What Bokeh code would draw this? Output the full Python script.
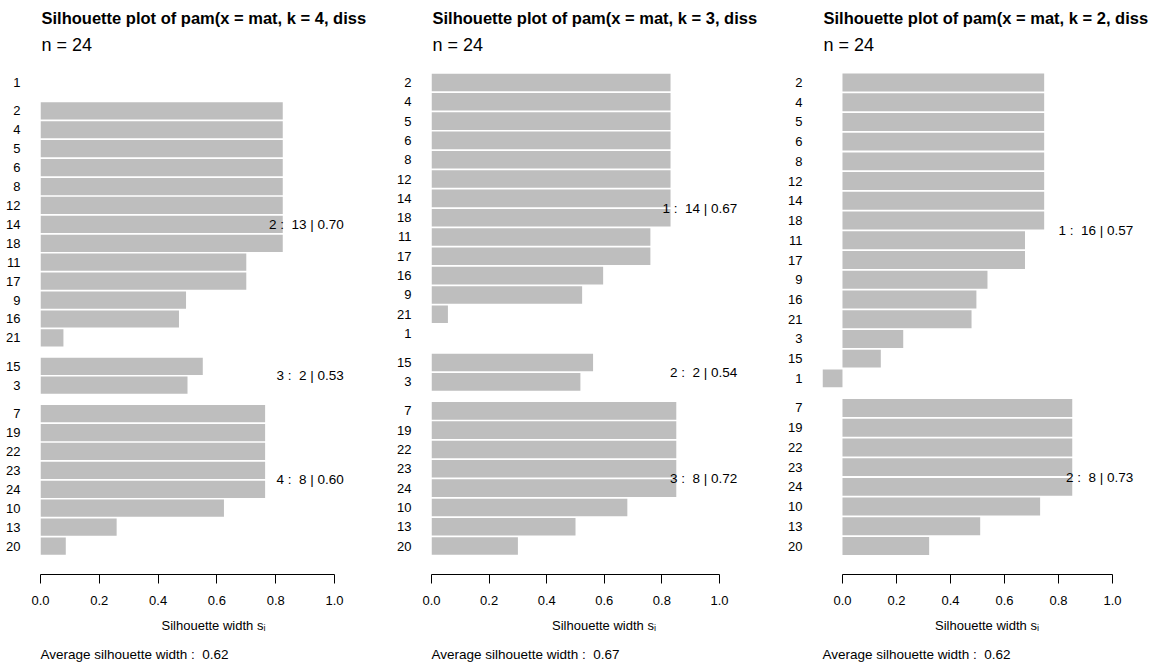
from bokeh.plotting import figure
from bokeh.layouts import row
from bokeh.models import ColumnDataSource, Range1d, FixedTicker, NumeralTickFormatter, Title
from bokeh.core.properties import value
from bokeh.embed import file_html
from bokeh.resources import INLINE

# ---- silhouette widths of pam() on 24 observations, for k = 4, 3, 2 ----
obs_k4 = ["1", "2", "4", "5", "6", "8", "12", "14", "18", "11", "17", "9", "16", "21",
          "15", "3", "7", "19", "22", "23", "24", "10", "13", "20"]
clus_k4 = [1, 2, 2, 2, 2, 2, 2, 2, 2, 2, 2, 2, 2, 2, 3, 3, 4, 4, 4, 4, 4, 4, 4, 4]
sil_k4 = [0.0,
          0.824, 0.824, 0.824, 0.824, 0.824, 0.824, 0.824, 0.824, 0.700, 0.700, 0.495, 0.471, 0.078,
          0.552, 0.500,
          0.764, 0.764, 0.764, 0.764, 0.764, 0.624, 0.259, 0.086]

obs_k3 = ["2", "4", "5", "6", "8", "12", "14", "18", "11", "17", "16", "9", "21", "1",
          "15", "3", "7", "19", "22", "23", "24", "10", "13", "20"]
clus_k3 = [1, 1, 1, 1, 1, 1, 1, 1, 1, 1, 1, 1, 1, 1, 2, 2, 3, 3, 3, 3, 3, 3, 3, 3]
sil_k3 = [0.830, 0.830, 0.830, 0.830, 0.830, 0.830, 0.830, 0.830, 0.760, 0.760, 0.596, 0.523, 0.057, 0.0,
          0.561, 0.517,
          0.850, 0.850, 0.850, 0.850, 0.850, 0.680, 0.500, 0.300]

obs_k2 = ["2", "4", "5", "6", "8", "12", "14", "18", "11", "17", "9", "16", "21", "3", "15", "1",
          "7", "19", "22", "23", "24", "10", "13", "20"]
clus_k2 = [1, 1, 1, 1, 1, 1, 1, 1, 1, 1, 1, 1, 1, 1, 1, 1, 2, 2, 2, 2, 2, 2, 2, 2]
sil_k2 = [0.747, 0.747, 0.747, 0.747, 0.747, 0.747, 0.747, 0.747, 0.676, 0.676, 0.537, 0.496, 0.478,
          0.225, 0.142, -0.074,
          0.851, 0.851, 0.851, 0.851, 0.851, 0.732, 0.510, 0.321]

x_ticks = [0.0, 0.2, 0.4, 0.6, 0.8, 1.0]

# ---- styling / geometry ----
FONT = "Liberation Sans"
BAR = "#bebebe"
INK = "#000000"
NBSP = "\u00a0"
HEIGHT = 671
FRAME_TOP, FRAME_BOTTOM = 60, 575
FIRST_ROW_PX, LAST_ROW_PX = 82.0, 546.5
RIGHT_PAD = 4


def silhouette_panel(k, obs, clus, sil, width, left, px_per_unit):
    n = len(obs)
    order = []
    for c in clus:
        if c not in order:
            order.append(c)
    cidx = [order.index(c) for c in clus]
    # rows are 2 units apart, each cluster boundary adds a 1-unit gap
    ypos = [2 * i + c for i, c in enumerate(cidx)]
    unit_px = (LAST_ROW_PX - FIRST_ROW_PX) / (2 * (n - 1) + (len(order) - 1))
    y_top = (FRAME_TOP - FIRST_ROW_PX) / unit_px
    y_bot = (FRAME_BOTTOM - FIRST_ROW_PX) / unit_px

    x0 = min(0.0, min(sil))
    x1 = x0 + (width - left - RIGHT_PAD) / px_per_unit

    p = figure(width=width, height=HEIGHT, title=None,
               x_range=Range1d(x0, x1), y_range=Range1d(y_bot, y_top),
               output_backend="svg", toolbar_location=None,
               min_border_left=left, min_border_right=RIGHT_PAD,
               min_border_top=FRAME_TOP, min_border_bottom=HEIGHT - FRAME_BOTTOM)
    p.grid.visible = False
    p.outline_line_color = None
    p.background_fill_color = "white"
    p.border_fill_color = "white"

    src = ColumnDataSource(dict(y=ypos, s=sil, obs=obs))
    p.hbar(y="y", left=0, right="s", height=1.82, source=src,
           fill_color=BAR, line_color=None)

    # per-cluster summary: "cluster :  size | average width"
    smax = max(sil)
    lx, ly, lt = [], [], []
    for c in order:
        members = [j for j in range(n) if clus[j] == c]
        if len(members) < 2:
            continue
        avg = sum(sil[j] for j in members) / len(members)
        lx.append(smax)
        ly.append(sum(ypos[j] for j in members) / len(members))
        lt.append(f"{c} : {NBSP}{len(members)} | {avg:.2f}")
    p.text(x=lx, y=ly, text=lt, text_align="right", text_baseline="middle",
           x_offset=61, text_font=value(FONT), text_font_size="13.5px", text_color=INK)

    xa = p.xaxis[0]
    xa.ticker = FixedTicker(ticks=x_ticks)
    xa.formatter = NumeralTickFormatter(format="0.0")
    xa.bounds = (0, 1)
    xa.axis_line_color = INK
    xa.major_tick_line_color = INK
    xa.major_tick_out = 9
    xa.major_tick_in = 0
    xa.minor_tick_line_color = None
    xa.major_label_standoff = 12
    xa.major_label_text_font = FONT
    xa.major_label_text_font_size = "13px"
    xa.major_label_text_color = INK
    xa.axis_label = "Silhouette width s\u1d62"
    xa.axis_label_standoff = 10
    xa.axis_label_text_font = FONT
    xa.axis_label_text_font_size = "13px"
    xa.axis_label_text_font_style = "normal"
    xa.axis_label_text_color = INK

    ya = p.yaxis[0]
    ya.ticker = FixedTicker(ticks=ypos)
    ya.major_label_overrides = {y: o for y, o in zip(ypos, obs)}
    ya.axis_line_color = None
    ya.major_tick_line_color = None
    ya.minor_tick_line_color = None
    ya.major_label_standoff = 14
    ya.major_label_text_font = FONT
    ya.major_label_text_font_size = "13px"
    ya.major_label_text_color = INK

    overall = sum(sil) / n
    p.add_layout(Title(text=f"n = {n}", align="left", offset=1, standoff=12,
                       text_font=FONT, text_font_size="18px", text_font_style="normal",
                       text_color=INK), "above")
    p.add_layout(Title(text=f"Silhouette plot of pam(x = mat, k = {k}, diss", align="left",
                       offset=1, standoff=0, text_font=FONT, text_font_size="16.5px",
                       text_font_style="bold", text_color=INK), "above")
    p.add_layout(Title(text=f"Average silhouette width : {NBSP}{overall:.2f}", align="left",
                       offset=0, standoff=19, text_font=FONT, text_font_size="13.5px",
                       text_font_style="normal", text_color=INK), "below")
    return p


p1 = silhouette_panel(4, obs_k4, clus_k4, sil_k4, width=390, left=40, px_per_unit=294)
p2 = silhouette_panel(3, obs_k3, clus_k3, sil_k3, width=390, left=41, px_per_unit=288)
p3 = silhouette_panel(2, obs_k2, clus_k2, sil_k2, width=375, left=42, px_per_unit=270)

layout = row(p1, p2, p3, spacing=0)
open("out.html", "w").write(file_html(layout, INLINE, "Silhouette plots"))
